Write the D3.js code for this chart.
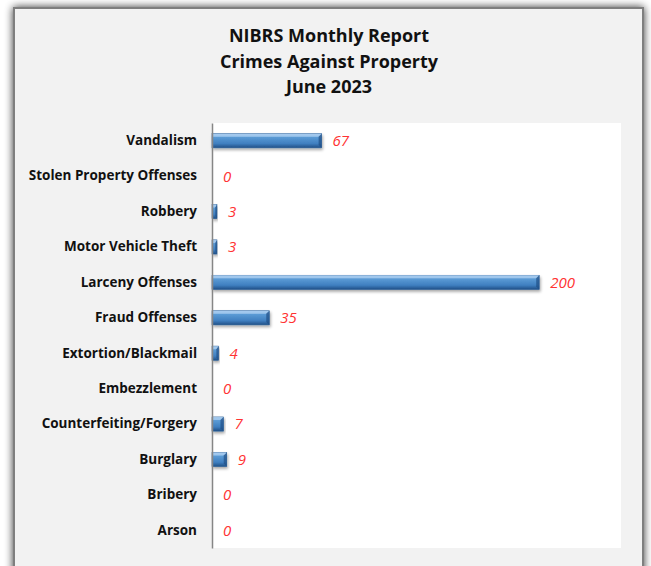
<!DOCTYPE html>
<html>
<head>
<meta charset="utf-8">
<script src="https://cdn.jsdelivr.net/npm/d3@7"></script>
<style>
  body { margin: 0; background: #fff; }
</style>
</head>
<body>
<script>
// data, top to bottom as shown
let categories = ["Vandalism", "Stolen Property Offenses", "Robbery", "Motor Vehicle Theft",
    "Larceny Offenses", "Fraud Offenses", "Extortion/Blackmail", "Embezzlement",
    "Counterfeiting/Forgery", "Burglary", "Bribery", "Arson"];
let counts = [67, 0, 3, 3, 200, 35, 4, 0, 7, 9, 0, 0];
let titleLines = ["NIBRS Monthly Report", "Crimes Against Property", "June 2023"];

let W = 651, H = 566;
let svg = d3.select("body").append("svg")
    .attr("width", W)
    .attr("height", H);

let defs = svg.append("defs");

// soft shadow round the frame
let fs = defs.append("filter").attr("id", "frameShadow")
    .attr("x", "-10%").attr("y", "-10%").attr("width", "120%").attr("height", "120%");
fs.append("feGaussianBlur").attr("in", "SourceAlpha").attr("stdDeviation", 4);
fs.append("feOffset").attr("dx", 0).attr("dy", 0).attr("result", "b");
fs.append("feComponentTransfer").append("feFuncA").attr("type", "linear").attr("slope", 0.8);
let fm = fs.append("feMerge");
fm.append("feMergeNode");
fm.append("feMergeNode").attr("in", "SourceGraphic");

// bar shading
let grad = defs.append("linearGradient").attr("id", "barGrad")
    .attr("x1", 0).attr("y1", 0).attr("x2", 0).attr("y2", 1);
grad.append("stop").attr("offset", "0%").attr("stop-color", "#9cc3ea");
grad.append("stop").attr("offset", "25%").attr("stop-color", "#5b9bd5");
grad.append("stop").attr("offset", "70%").attr("stop-color", "#3f7fc0");
grad.append("stop").attr("offset", "100%").attr("stop-color", "#1f4f86");

let bs = defs.append("filter").attr("id", "barShadow")
    .attr("x", "-10%").attr("y", "-50%").attr("width", "130%").attr("height", "220%");
bs.append("feGaussianBlur").attr("in", "SourceAlpha").attr("stdDeviation", 1.5);
bs.append("feOffset").attr("dx", 1).attr("dy", 2);
bs.append("feComponentTransfer").append("feFuncA").attr("type", "linear").attr("slope", 0.35);
let bm = bs.append("feMerge");
bm.append("feMergeNode");
bm.append("feMergeNode").attr("in", "SourceGraphic");

// outer frame
svg.append("rect")
    .attr("x", 14).attr("y", 8)
    .attr("width", 629).attr("height", 570)
    .attr("fill", "#f2f2f2")
    .attr("stroke", "#7f7f7f")
    .attr("stroke-width", 2)
    .attr("filter", "url(#frameShadow)");

// title
svg.append("g").selectAll("text")
    .data(titleLines)
    .enter()
    .append("text")
    .attr("x", 329)
    .attr("y", (d, i) => 42 + i * 25.5)
    .attr("text-anchor", "middle")
    .attr("font-family", "Open Sans, sans-serif")
    .attr("font-weight", "bold")
    .attr("font-size", "18px")
    .attr("fill", "#111")
    .text(d => d);

let plot = { left: 212, top: 123, right: 621, bottom: 548 };

svg.append("rect")
    .attr("x", plot.left).attr("y", plot.top)
    .attr("width", plot.right - plot.left)
    .attr("height", plot.bottom - plot.top)
    .attr("fill", "#fff");

let x = d3.scaleLinear()
    .domain([0, 250])
    .range([plot.left, plot.right]);

let y = d3.scaleBand()
    .domain(categories)
    .range([plot.top, plot.bottom])
    .paddingInner(0.6)
    .paddingOuter(0.3);

// bars
let bars = svg.append("g").selectAll("g")
    .data(categories.map((c, i) => ({ name: c, value: counts[i] })).filter(d => d.value > 0))
    .enter()
    .append("g")
    .attr("filter", "url(#barShadow)");

bars.append("rect")
    .attr("x", x(0))
    .attr("y", d => y(d.name))
    .attr("width", d => x(d.value) - x(0))
    .attr("height", y.bandwidth())
    .attr("fill", "url(#barGrad)")
    .attr("stroke", "#2a5d95")
    .attr("stroke-width", 0.6);

// bevel highlight on top edge
bars.append("path")
    .attr("d", d => {
        let x0 = x(0), x1 = x(d.value), y0 = y(d.name), b = Math.min(3, (x1 - x0) / 3);
        return `M${x0},${y0}L${x1},${y0}L${x1 - b},${y0 + 3}L${x0},${y0 + 3}Z`;
    })
    .attr("fill", "#a9cdf0")
    .attr("opacity", 0.8);

// bevel dark right edge
bars.append("path")
    .attr("d", d => {
        let x1 = x(d.value), y0 = y(d.name), h = y.bandwidth(), b = Math.min(3, (x(d.value) - x(0)) / 3);
        return `M${x1},${y0}L${x1},${y0 + h}L${x1 - b},${y0 + h - 3}L${x1 - b},${y0 + 3}Z`;
    })
    .attr("fill", "#1f4f86")
    .attr("opacity", 0.7);

// axis
let yAxis = d3.axisLeft(y).tickSize(0).tickPadding(15);
let ax = svg.append("g")
    .attr("transform", `translate(${plot.left},0)`)
    .call(yAxis);
ax.select(".domain").attr("stroke", "#868686").attr("stroke-width", 1.5);
ax.selectAll("text")
    .attr("font-family", "Open Sans, sans-serif")
    .attr("font-weight", "bold")
    .attr("font-size", "13.5px")
    .attr("fill", "#111");

// value labels
svg.append("g").selectAll("text")
    .data(categories.map((c, i) => ({ name: c, value: counts[i] })))
    .enter()
    .append("text")
    .attr("x", d => x(d.value) + 11)
    .attr("y", d => y(d.name) + y.bandwidth() / 2)
    .attr("dy", "0.36em")
    .attr("font-family", "Open Sans, sans-serif")
    .attr("font-style", "italic")
    .attr("font-size", "15px")
    .attr("fill", "#ff3333")
    .text(d => d.value);
</script>
</body>
</html>
